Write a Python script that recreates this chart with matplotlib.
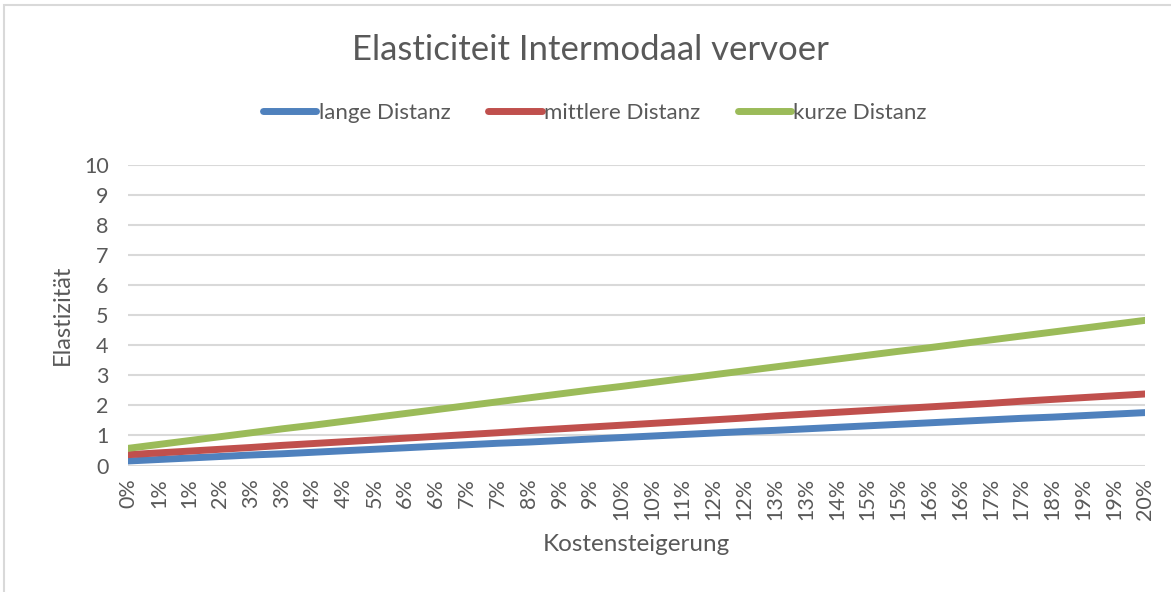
#!/usr/bin/env python3
"""
Elasticiteit Intermodaal vervoer - Linienchart nachbauen
"""

import matplotlib
matplotlib.use('Agg')
import matplotlib.pyplot as plt
from matplotlib.patches import Rectangle

plt.rcParams['font.family'] = ['Lato', 'DejaVu Sans']

# Daten
kosten_labels = ['0%', '1%', '1%', '2%', '3%', '3%', '4%', '4%', '5%', '6%', '6%',
                 '7%', '7%', '8%', '9%', '9%', '10%', '10%', '11%', '12%', '12%',
                 '13%', '13%', '14%', '15%', '15%', '16%', '16%', '17%', '17%',
                 '18%', '19%', '19%', '20%']

lange = [0.15, 0.20, 0.25, 0.30, 0.35, 0.39, 0.44, 0.49, 0.54, 0.59, 0.64,
         0.69, 0.74, 0.78, 0.83, 0.88, 0.93, 0.98, 1.03, 1.08, 1.13, 1.17,
         1.22, 1.27, 1.32, 1.37, 1.42, 1.47, 1.52, 1.57, 1.61, 1.66, 1.71, 1.76]

mittlere = [0.36, 0.42, 0.48, 0.54, 0.60, 0.67, 0.73, 0.79, 0.85, 0.91, 0.97,
            1.03, 1.09, 1.16, 1.22, 1.28, 1.34, 1.40, 1.46, 1.52, 1.58, 1.65,
            1.71, 1.77, 1.83, 1.89, 1.95, 2.01, 2.07, 2.14, 2.20, 2.26, 2.32, 2.38]

kurze = [0.57, 0.70, 0.83, 0.96, 1.09, 1.22, 1.34, 1.47, 1.60, 1.73, 1.86,
         1.99, 2.12, 2.25, 2.38, 2.51, 2.63, 2.76, 2.89, 3.02, 3.15, 3.28,
         3.41, 3.54, 3.67, 3.80, 3.92, 4.05, 4.18, 4.31, 4.44, 4.57, 4.70, 4.83]

serien = [('lange Distanz', lange, '#4F81BD'),
          ('mittlere Distanz', mittlere, '#C0504D'),
          ('kurze Distanz', kurze, '#9BBB59')]

text_farbe = '#595959'
grid_farbe = '#D9D9D9'

fig = plt.figure(figsize=(11.71, 5.92), dpi=100)
ax = fig.add_axes([128 / 1171, 1 - 465.5 / 592, (1145 - 128) / 1171, (465.5 - 165) / 592])

x = list(range(len(kosten_labels)))
for name, werte, farbe in serien:
    ax.plot(x, werte, color=farbe, linewidth=5, solid_capstyle='round', label=name)

ax.set_xlim(0, len(kosten_labels) - 1)
ax.set_ylim(0, 10)
ax.set_yticks(range(0, 11))
ax.set_xticks(x)
ax.set_xticklabels(kosten_labels, rotation=90, fontsize=15.5, color=text_farbe)
ax.tick_params(axis='y', labelsize=15.5, labelcolor=text_farbe, length=0, pad=14)
ax.tick_params(axis='x', length=0, pad=9)
ax.grid(axis='y', color=grid_farbe, linewidth=1.5)
ax.set_axisbelow(True)
for s in ax.spines.values():
    s.set_visible(False)

ax.set_ylabel('Elastizität', fontsize=17, color=text_farbe, labelpad=8)
ax.set_xlabel('Kostensteigerung', fontsize=17.5, color=text_farbe, labelpad=10)

fig.text(590 / 1171, 1 - 50 / 592, 'Elasticiteit Intermodaal vervoer',
         ha='center', va='center', fontsize=25, color=text_farbe)

fig.legend(loc='center', bbox_to_anchor=(595 / 1171, 1 - 113 / 592), ncol=3,
           frameon=False, fontsize=16, handlelength=2.4, handletextpad=0.1,
           columnspacing=1.7, labelcolor=text_farbe)

# Rahmen des Diagrammbereichs
fig.patches.append(Rectangle((4 / 1171, -0.1), 1.2, 1.1 - 5 / 592, transform=fig.transFigure,
                             fill=False, edgecolor=grid_farbe, linewidth=1.5))

plt.savefig('out.png', dpi=100)
print("gespeichert: out.png")
